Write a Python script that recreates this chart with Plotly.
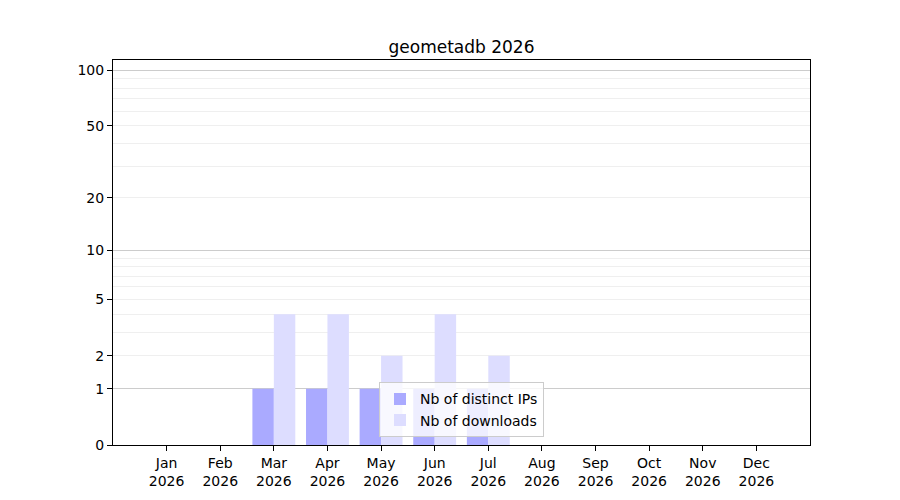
import plotly.graph_objects as go

YEAR = 2026
months = ["Jan", "Feb", "Mar", "Apr", "May", "Jun",
          "Jul", "Aug", "Sep", "Oct", "Nov", "Dec"]
distinct_ips = [0, 0, 1, 1, 1, 1, 1, 0, 0, 0, 0, 0]
downloads = [0, 0, 4, 4, 2, 4, 2, 0, 0, 0, 0, 0]

# symlog-like axis: plot 1 + value on a log scale
tick_labels = [0, 1, 2, 5, 10, 20, 50, 100]
major_grid = [1, 10, 100]
minor_grid = [2, 3, 4, 5, 6, 7, 8, 9, 20, 30, 40, 50, 60, 70, 80, 90]

x_pos = list(range(len(months)))
x_labels = [f"{m}<br>{YEAR}" for m in months]

FONT = dict(family="DejaVu Sans", size=14, color="black")

fig = go.Figure()
# bars start at 1 (= value 0) and end at 1 + value
fig.add_trace(go.Bar(
    x=x_pos, y=distinct_ips, base=1,
    name="Nb of distinct IPs", marker=dict(color="#aaaaff", line_width=0),
    hovertemplate="%{y}<extra></extra>",
))
fig.add_trace(go.Bar(
    x=x_pos, y=downloads, base=1,
    name="Nb of downloads", marker=dict(color="#ddddff", line_width=0),
    hovertemplate="%{y}<extra></extra>",
))

y_range = [0, 2.0588]

# page body has an 8px margin, so shift the plot area up/left to compensate
fig.update_layout(
    width=900, height=500,
    margin=dict(l=105, r=98, t=52, b=63, autoexpand=False),
    paper_bgcolor="white", plot_bgcolor="white",
    font=FONT,
    barmode="group", bargap=0.2, bargroupgap=0,
    title=dict(text=f"geometadb {YEAR}", x=0.5, xref="paper",
               y=1 - 39 / 500, yref="container", yanchor="middle",
               font=dict(family="DejaVu Sans", size=17, color="black")),
    legend=dict(x=0.5, xanchor="center", y=0.02, yanchor="bottom",
                bgcolor="rgba(255,255,255,0.8)", bordercolor="#cccccc",
                borderwidth=1, font=FONT),
    xaxis=dict(range=[-1, 12], tickmode="array", tickvals=x_pos,
               ticktext=x_labels, showgrid=False, zeroline=False,
               showline=True, linecolor="black", linewidth=1, mirror=True,
               ticks="outside", ticklen=5, tickcolor="black",
               automargin=False),
    yaxis=dict(type="log", range=y_range, tickmode="array",
               tickvals=[v + 1 for v in tick_labels],
               ticktext=[str(v) for v in tick_labels],
               showgrid=False, zeroline=False,
               showline=True, linecolor="black", linewidth=1, mirror=True,
               ticks="outside", ticklen=5, tickcolor="black",
               automargin=False,
               minor=dict(tickmode="array",
                          tickvals=[v + 1 for v in minor_grid],
                          showgrid=True, gridcolor="#efefef", gridwidth=1,
                          ticks="")),
    yaxis2=dict(type="log", range=y_range, overlaying="y", side="left",
                tickmode="array", tickvals=[v + 1 for v in major_grid],
                showticklabels=False, ticks="", showgrid=True,
                gridcolor="#cccccc", gridwidth=1, zeroline=False,
                showline=False, automargin=False),
)

# invisible trace to activate the second y axis for the major grid
fig.add_trace(go.Scatter(x=[x_pos[0]], y=[1], yaxis="y2", mode="markers",
                         marker=dict(opacity=0), showlegend=False,
                         hoverinfo="skip"))

fig.write_html("out.html")
